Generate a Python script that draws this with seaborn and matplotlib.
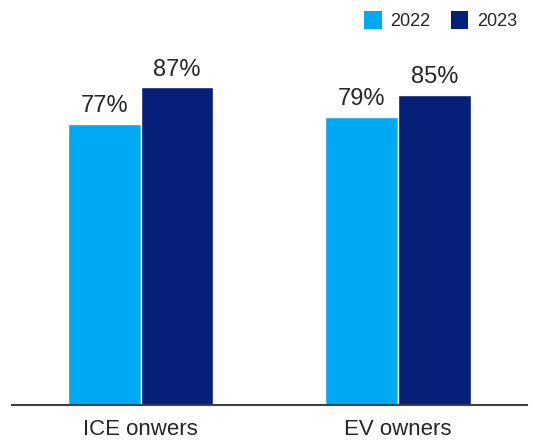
import matplotlib
matplotlib.use("Agg")
import matplotlib.pyplot as plt
import seaborn as sns
import pandas as pd
from matplotlib.patches import Patch

groups = ["ICE onwers", "EV owners"]
years = ["2022", "2023"]
values_2022 = [77, 79]
values_2023 = [87, 85]
colors = ["#00A9F4", "#061F78"]

df = pd.DataFrame({
    "group": groups * 2,
    "year": [years[0]] * len(groups) + [years[1]] * len(groups),
    "value": values_2022 + values_2023,
})

sns.set_theme(style="white")
plt.rcParams["font.family"] = ["Liberation Sans", "DejaVu Sans"]

fig = plt.figure(figsize=(5.33, 4.41), dpi=100)
ax = fig.add_axes([0.0225, 0.0816, 0.9662, 0.8277])

sns.barplot(data=df, x="group", y="value", hue="year", palette=colors,
            saturation=1, width=0.565, edgecolor="white", linewidth=1.0,
            ax=ax, legend=False, errorbar=None)

ax.set_ylim(0, 100)
ax.set_xlim(-0.5, 1.5)
ax.set_xlabel("")
ax.set_ylabel("")
ax.set_yticks([])
for s in ["top", "right", "left"]:
    ax.spines[s].set_visible(False)
ax.spines["bottom"].set_color("#404040")
ax.spines["bottom"].set_linewidth(1.5)
ax.tick_params(axis="x", length=0, pad=10, labelsize=16, labelcolor="#262626")

for container in ax.containers:
    ax.bar_label(container, labels=[f"{v:.0f}%" for v in container.datavalues],
                 padding=5, fontsize=17, color="#262626")

handles = [Patch(facecolor=c, edgecolor="none") for c in colors]
ax.legend(handles, years, loc="upper right", bbox_to_anchor=(1.012, 1.125),
          ncol=2, frameon=False, fontsize=13, handlelength=0.95,
          handleheight=1.2, handletextpad=0.5, columnspacing=1.1,
          labelcolor="#262626")

fig.savefig("out.png", dpi=100)
